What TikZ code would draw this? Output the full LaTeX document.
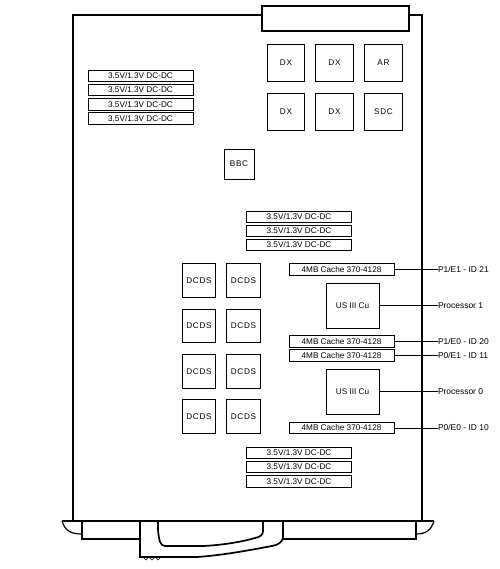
\documentclass[tikz,border=0pt]{standalone}
\usepackage{fontspec}
\setmainfont{Liberation Sans}
\newfontfamily\spaced[LetterSpace=8]{Liberation Sans}
\tikzset{
  board/.style={line width=1.7pt,line join=miter},
  thin box/.style={draw,line width=0.9pt,inner sep=0pt,outer sep=0pt,text height=5.9pt,text depth=0pt,font=\fontsize{8.2}{9}\selectfont},
  dcbox/.style={thin box,minimum width=105pt,minimum height=11.5pt},
  chip/.style={thin box,minimum width=37.5pt,minimum height=37pt,font=\fontsize{8.2}{9}\spaced\selectfont},
  dcds/.style={thin box,minimum width=33.5pt,minimum height=33.5pt,font=\fontsize{8.2}{9}\spaced\selectfont},
  cpu/.style={thin box,minimum width=53pt,minimum height=45pt},
  tag/.style={inner sep=0pt,outer sep=0pt,anchor=west,text height=5.9pt,text depth=0pt,font=\fontsize{8.45}{9}\selectfont},
  leader/.style={line width=0.9pt}
}
\begin{document}
\begin{tikzpicture}[x=1pt,y=-1pt]
\useasboundingbox (0,0) rectangle (499,569);
% board
\draw[board] (73,521) -- (73,15) -- (422,15) -- (422,521);
\node[draw,line width=1.7pt,fill=white,minimum width=147pt,minimum height=25pt,inner sep=0pt,outer sep=0pt] (conn) at (335.5,18.5) {};
% chips
\node[chip] (dx1) at (286,63) {DX};
\node[chip] (dx2) at (334.5,63) {DX};
\node[chip] (ar) at (383.5,63) {AR};
\node[chip] (dx3) at (286,111.5) {DX};
\node[chip] (dx4) at (334.5,111.5) {DX};
\node[chip] (sdc) at (383.5,111.5) {SDC};
\node[thin box,minimum width=30pt,minimum height=30pt,font=\fontsize{8.2}{9}\spaced\selectfont] (bbc) at (239,164) {BBC};
% DC-DC
\node[dcbox] (a1) at (140.5,76) {3.5V/1.3V DC-DC};
\node[dcbox] (a2) at (140.5,90) {3.5V/1.3V DC-DC};
\node[dcbox] (a3) at (140.5,104.5) {3.5V/1.3V DC-DC};
\node[dcbox] (a4) at (140.5,118.5) {3.5V/1.3V DC-DC};
\node[dcbox] (b1) at (299,217) {3.5V/1.3V DC-DC};
\node[dcbox] (b2) at (299,231) {3.5V/1.3V DC-DC};
\node[dcbox] (b3) at (299,245) {3.5V/1.3V DC-DC};
\node[dcbox] (d1) at (299,453) {3.5V/1.3V DC-DC};
\node[dcbox] (d2) at (299,467) {3.5V/1.3V DC-DC};
\node[dcbox] (d3) at (299,481.5) {3.5V/1.3V DC-DC};
% DCDS
\node[dcds] (s1) at (199,280.5) {DCDS};
\node[dcds] (s2) at (243.5,280.5) {DCDS};
\node[dcds] (s3) at (199,326) {DCDS};
\node[dcds] (s4) at (243.5,326) {DCDS};
\node[dcds] (s5) at (199,371.5) {DCDS};
\node[dcds] (s6) at (243.5,371.5) {DCDS};
\node[dcds] (s7) at (199,416.5) {DCDS};
\node[dcds] (s8) at (243.5,416.5) {DCDS};
% cache and processors
\node[dcbox] (c1) at (341.5,269.5) {4MB Cache 370-4128};
\node[cpu] (p1) at (352.5,305.5) {US III Cu};
\node[dcbox] (c2) at (341.5,341.5) {4MB Cache 370-4128};
\node[dcbox] (c3) at (341.5,355.5) {4MB Cache 370-4128};
\node[cpu] (p0) at (352.5,391.5) {US III Cu};
\node[dcbox] (c4) at (341.5,428) {4MB Cache 370-4128};
% labels
\node[tag] (l1) at (438,269.5) {P1/E1 - ID 21};
\node[tag] (l2) at (438,305.5) {Processor 1};
\node[tag] (l3) at (438,341.5) {P1/E0 - ID 20};
\node[tag] (l4) at (438,355.5) {P0/E1 - ID 11};
\node[tag] (l5) at (438,391.5) {Processor 0};
\node[tag] (l6) at (438,428) {P0/E0 - ID 10};
\draw[leader] (c1) -- (l1);
\draw[leader] (p1) -- (l2);
\draw[leader] (c2) -- (l3);
\draw[leader] (c3) -- (l4);
\draw[leader] (p0) -- (l5);
\draw[leader] (c4) -- (l6);
% front panel
\draw[board] (62,521) -- (434,521);
\draw[board] (82,521) -- (82,539) -- (140,539);
\draw[board] (416,521) -- (416,539) -- (283,539);
\draw[line width=1.2pt] (62,521) .. controls (65,531) and (71,534) .. (82,534);
\draw[line width=1.2pt] (434,521) .. controls (431,531) and (425,534) .. (416,534);
% handle
\draw[board] (140,521) -- (140,557) -- (197,557) .. controls (225,555) and (250,550) .. (272,546) .. controls (279,545) and (283,541) .. (283,537) -- (283,521);
\draw[board] (158,521) -- (158,530) .. controls (159,540) and (160,546) .. (165,546) -- (203,546) .. controls (225,545) and (245,541) .. (255,538) .. controls (260,537) and (263,535) .. (263,531) -- (263,521);
\draw[line width=0.6pt] (143,557) -- (146,560) -- (149,557) -- (152,560) -- (155,557) -- (158,560) -- (161,557);
\end{tikzpicture}
\end{document}
